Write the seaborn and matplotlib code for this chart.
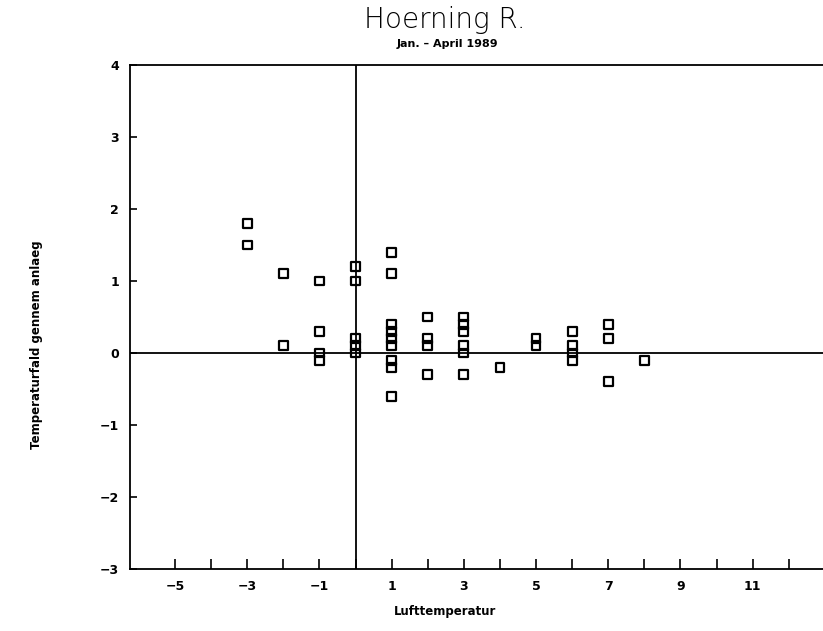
import matplotlib

matplotlib.use("Agg")
import matplotlib.pyplot as plt  # noqa: E402
import pandas as pd  # noqa: E402
import seaborn as sns  # noqa: E402
from matplotlib.ticker import FixedLocator  # noqa: E402

# air temperature (x) and the temperature drops measured at it (y)
air_temp = [-3, -3,
            -2, -2,
            -1, -1, -1, -1,
            0, 0, 0, 0, 0,
            1, 1, 1, 1, 1, 1, 1, 1, 1,
            2, 2, 2, 2,
            3, 3, 3, 3, 3, 3,
            4,
            5, 5,
            6, 6, 6, 6,
            7, 7, 7,
            8]
temp_drop = [1.8, 1.5,
             1.1, 0.1,
             1.0, 0.3, 0.0, -0.1,
             1.2, 1.0, 0.2, 0.1, 0.0,
             1.4, 1.1, 0.4, 0.3, 0.2, 0.1, -0.1, -0.2, -0.6,
             0.5, 0.2, 0.1, -0.3,
             0.5, 0.4, 0.3, 0.1, 0.0, -0.3,
             -0.2,
             0.2, 0.1,
             0.3, 0.1, 0.0, -0.1,
             0.4, 0.2, -0.4,
             -0.1]
x_labels = [-5, -3, -1, 1, 3, 5, 7, 9, 11]
x_minor = [-4, -2, 0, 2, 4, 6, 8, 10, 12]
y_ticks = [-3, -2, -1, 0, 1, 2, 3, 4]

df = pd.DataFrame({"Lufttemperatur": air_temp, "Temperaturfald": temp_drop})

sns.set_style("white")
plt.rcParams["font.family"] = ["DejaVu Sans"]
plt.rcParams["text.color"] = "black"
plt.rcParams["xtick.color"] = "black"
plt.rcParams["ytick.color"] = "black"

fig = plt.figure(figsize=(8.23, 6.31), dpi=100)
ax = fig.add_axes([130 / 823, 1 - 569 / 631, 1 - 130 / 823, (569 - 65) / 631])

ax.axhline(0, color="black", lw=1.3, zorder=1)
ax.axvline(0, color="black", lw=1.3, zorder=1)

sns.scatterplot(data=df, x="Lufttemperatur", y="Temperaturfald", marker="s", s=40,
                facecolor="none", edgecolor="black", linewidth=1.6, ax=ax, zorder=3)

ax.set_xlim(-6.25, 12.95)
ax.set_ylim(-3, 4)
ax.xaxis.set_major_locator(FixedLocator(x_labels))
ax.xaxis.set_minor_locator(FixedLocator(x_minor))
ax.set_yticks(y_ticks)
ax.tick_params(axis="x", which="both", direction="in", length=7, width=1.2,
               labelsize=9, pad=8, bottom=True, top=False, colors="black")
ax.tick_params(axis="y", which="both", direction="in", length=5, width=1.2,
               labelsize=9, pad=8, left=True, right=False, colors="black")
for lbl in ax.get_xticklabels() + ax.get_yticklabels():
    lbl.set_fontweight("bold")

for side in ["left", "bottom", "top"]:
    ax.spines[side].set_visible(True)
    ax.spines[side].set_color("black")
    ax.spines[side].set_linewidth(1.3)
ax.spines["right"].set_visible(False)

ax.set_xlabel("")
ax.set_ylabel("")
fig.text(445 / 823, 1 - 612 / 631, "Lufttemperatur", ha="center", va="center",
         fontsize=8.5, fontweight="bold", color="black")
fig.text(37 / 823, 1 - 345 / 631, "Temperaturfald gennem anlaeg", ha="center",
         va="center", rotation=90, fontsize=8.5, fontweight="bold", color="black")
fig.text(445 / 823, 1 - 20 / 631, "Hoerning R.", ha="center", va="center",
         fontsize=20, fontweight="light", color="black")
fig.text(447 / 823, 1 - 44 / 631, "Jan. \u2013 April 1989", ha="center", va="center",
         fontsize=8, fontweight="bold", color="black")

fig.savefig("out.png", dpi=100, facecolor="white")
plt.close(fig)
